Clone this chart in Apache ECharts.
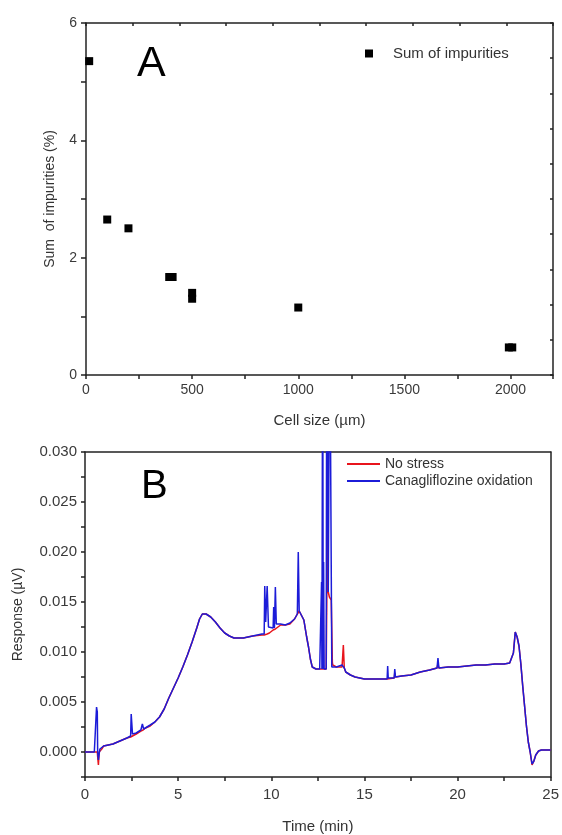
<!DOCTYPE html>
<html>
<head>
<meta charset="UTF-8">
<title>Impurities and chromatogram</title>
<script type="text/javascript" src="https://cdn.jsdelivr.net/npm/echarts@6/dist/echarts.min.js"></script>
<style>
  html, body { margin: 0; padding: 0; background: #fff; }
</style>
</head>
<body>
<div id="main" style="width: 562px;height:835px;"></div>
<script type="text/javascript">
// panel A: sum of impurities vs cell size
var cellSize   = [15,   100,  200,  392,  408,  500,  500,  1000, 1992, 2008];
var impurities = [5.35, 2.65, 2.50, 1.67, 1.67, 1.30, 1.40, 1.15, 0.47, 0.47];

// panel B: chromatogram, time (min) and response (uV) for both runs
var timeB = [0, 0.5, 0.6, 0.62, 0.66, 0.68, 0.72, 0.76, 0.8, 0.9, 1.0, 1.25, 1.5, 1.75, 2.0, 2.25,
  2.45, 2.48, 2.52, 2.55, 2.75, 3.0, 3.08, 3.12, 3.15, 3.25, 3.5, 3.75, 4.0, 4.25, 4.5, 4.75,
  5.0, 5.25, 5.5, 5.75, 6.0, 6.15, 6.3, 6.5, 6.75, 7.0, 7.25, 7.5, 7.75, 8.0, 8.5, 9.0,
  9.5, 9.62, 9.65, 9.7, 9.78, 9.85, 9.9, 10.1, 10.13, 10.17, 10.22, 10.27, 10.5, 10.75, 11.0, 11.25,
  11.4, 11.45, 11.5, 11.6, 11.75, 11.9, 12.0, 12.1, 12.2, 12.4, 12.6, 12.68, 12.7, 12.72, 12.75, 12.76,
  12.79, 12.81, 12.84, 12.95, 12.98, 13.02, 13.04, 13.06, 13.12, 13.14, 13.22, 13.25, 13.28, 13.3, 13.5, 13.8,
  13.87, 13.92, 14.0, 14.25, 14.5, 15.0, 15.5, 16.0, 16.22, 16.25, 16.28, 16.6, 16.63, 16.67, 17.0, 17.5,
  18.0, 18.5, 18.9, 18.95, 19.0, 19.5, 20.0, 20.5, 21.0, 21.5, 22.0, 22.5, 22.8, 23.0, 23.1, 23.2,
  23.3, 23.4, 23.5, 23.6, 23.7, 23.8, 23.9, 24.0, 24.1, 24.2, 24.35, 24.5, 24.75, 25.0];
var noStress = [0, 0, 0, 0, 0, -0.0005, -0.0013, 0, 0.0002, 0.0003, 0.0006, 0.0007, 0.0008, 0.0010, 0.0012, 0.0014,
  0.0015, 0.0015, 0.0015, 0.0016, 0.0018, 0.0021, 0.0022, 0.0022, 0.0023, 0.0024, 0.0026, 0.0030, 0.0035, 0.0043, 0.0054, 0.0064,
  0.0074, 0.0085, 0.0097, 0.0110, 0.0124, 0.0133, 0.0138, 0.0138, 0.0135, 0.0130, 0.0124, 0.0119, 0.0116, 0.0114, 0.0114, 0.0116,
  0.0117, 0.0117, 0.0117, 0.0117, 0.0118, 0.0118, 0.0119, 0.0122, 0.0122, 0.0122, 0.0123, 0.0124, 0.0127, 0.0127, 0.0128, 0.0133,
  0.0138, 0.0140, 0.0141, 0.0140, 0.0132, 0.0115, 0.0105, 0.0093, 0.0085, 0.0083, 0.0083, 0.0083, 0.0083, 0.0083, 0.0083, 0.0083,
  0.0083, 0.0083, 0.0083, 0.0083, 0.0083, 0.0236, 0.0200, 0.0160, 0.0155, 0.0153, 0.0152, 0.0150, 0.0090, 0.0087, 0.0085, 0.0085,
  0.0107, 0.0084, 0.0080, 0.0077, 0.0075, 0.0073, 0.0073, 0.0073, 0.0073, 0.0075, 0.0074, 0.0074, 0.0079, 0.0075, 0.0076, 0.0077,
  0.0080, 0.0082, 0.0084, 0.0088, 0.0084, 0.0085, 0.0085, 0.0086, 0.0087, 0.0087, 0.0088, 0.0088, 0.0089, 0.0099, 0.0120, 0.0115,
  0.0106, 0.0088, 0.0066, 0.0046, 0.0026, 0.0010, 0.0000, -0.0013, -0.0009, -0.0003, 0.0001, 0.0002, 0.0002, 0.0002];
var oxidation = [0, 0, 0, 0.0045, 0.0040, 0, -0.0008, -0.0002, 0.0003, 0.0002, 0.0006, 0.0007, 0.0008, 0.0010, 0.0012, 0.0014,
  0.0016, 0.0038, 0.0037, 0.0018, 0.0019, 0.0022, 0.0028, 0.0027, 0.0023, 0.0024, 0.0027, 0.0030, 0.0035, 0.0043, 0.0054, 0.0064,
  0.0074, 0.0085, 0.0097, 0.0110, 0.0124, 0.0133, 0.0138, 0.0138, 0.0135, 0.0130, 0.0124, 0.0119, 0.0116, 0.0114, 0.0114, 0.0116,
  0.0118, 0.0118, 0.0166, 0.0130, 0.0166, 0.0125, 0.0123, 0.0124, 0.0145, 0.0124, 0.0165, 0.0128, 0.0128, 0.0127, 0.0129, 0.0133,
  0.0138, 0.0200, 0.0141, 0.0140, 0.0132, 0.0115, 0.0105, 0.0093, 0.0085, 0.0083, 0.0083, 0.0083, 0.0170, 0.0083, 0.0083, 0.0450,
  0.0083, 0.0190, 0.0083, 0.0083, 0.0450, 0.0450, 0.0450, 0.0160, 0.0160, 0.0450, 0.0450, 0.0085, 0.0086, 0.0087, 0.0085, 0.0087,
  0.0088, 0.0084, 0.0080, 0.0077, 0.0075, 0.0073, 0.0073, 0.0073, 0.0073, 0.0086, 0.0074, 0.0074, 0.0083, 0.0075, 0.0076, 0.0077,
  0.0080, 0.0082, 0.0084, 0.0094, 0.0084, 0.0085, 0.0085, 0.0086, 0.0087, 0.0087, 0.0088, 0.0088, 0.0089, 0.0099, 0.0120, 0.0115,
  0.0106, 0.0088, 0.0066, 0.0046, 0.0026, 0.0010, 0.0000, -0.0012, -0.0009, -0.0003, 0.0001, 0.0002, 0.0002, 0.0002];

var axisCol = '#222';
var labelCol = '#3a3a3a';
var font = 'Liberation Sans, Arial, sans-serif';

function pairs(xs, ys) {
  return xs.map(function (x, i) { return [x, ys[i]]; });
}

var myChart = echarts.init(document.getElementById('main'));

var option = {
  animation: false,
  backgroundColor: '#fff',
  textStyle: { fontFamily: font },
  title: [
    { text: 'A', left: 132, top: 38, textStyle: { fontSize: 43, fontWeight: 'normal', color: '#000' } },
    { text: 'B', left: 136, top: 462, textStyle: { fontSize: 40, fontWeight: 'normal', color: '#000' } }
  ],
  legend: [
    {
      data: ['Sum of impurities'],
      left: 365, top: 46, padding: 0,
      icon: 'rect', itemWidth: 8, itemHeight: 8,
      itemStyle: { opacity: 1 },
      textStyle: { fontSize: 15, color: '#333', padding: [0, 0, 0, 15] }
    },
    {
      data: ['No stress', 'Canagliflozine oxidation'],
      orient: 'vertical',
      left: 347, top: 457, padding: 0,
      icon: 'rect', itemWidth: 33, itemHeight: 2, itemGap: 3,
      textStyle: { fontSize: 14, color: '#333' }
    }
  ],
  grid: [
    { left: 86, top: 23, width: 467, height: 352 },
    { left: 85, top: 452, width: 468, height: 325 }
  ],
  xAxis: [
    {
      gridIndex: 0, type: 'value', position: 'bottom',
      min: 0, max: 2200, interval: 250,
      name: 'Cell size (\u00b5m)', nameLocation: 'middle', nameGap: 38,
      nameTextStyle: { fontSize: 15, color: '#333' },
      axisLine: { onZero: false, lineStyle: { color: axisCol, width: 1.5 } },
      axisTick: { inside: false, length: 4, lineStyle: { color: axisCol, width: 1.5 } },
      axisLabel: {
        margin: 8, fontSize: 14, color: labelCol,
        formatter: function (v) { return v % 500 === 0 ? String(v) : ''; }
      },
      splitLine: { show: false }
    },
    {
      gridIndex: 0, type: 'value', position: 'top',
      min: 0, max: 10, interval: 1,
      axisLine: { onZero: false, lineStyle: { color: axisCol, width: 1.5 } },
      axisTick: { inside: true, length: 3, lineStyle: { color: axisCol, width: 1.5 } },
      axisLabel: { show: false },
      splitLine: { show: false }
    },
    {
      gridIndex: 1, type: 'value', position: 'bottom',
      min: 0, max: 25, interval: 2.5,
      name: 'Time (min)', nameLocation: 'middle', nameGap: 42,
      nameTextStyle: { fontSize: 15, color: '#333' },
      axisLine: { onZero: false, lineStyle: { color: axisCol, width: 1.5 } },
      axisTick: { inside: false, length: 4, lineStyle: { color: axisCol, width: 1.5 } },
      axisLabel: {
        margin: 10, fontSize: 15, color: labelCol,
        formatter: function (v) {
          var k = Math.round(v / 2.5);
          return k % 2 === 0 ? String(k * 2.5) : '';
        }
      },
      splitLine: { show: false }
    },
    {
      gridIndex: 1, type: 'value', position: 'top',
      min: 0, max: 25,
      axisLine: { onZero: false, lineStyle: { color: axisCol, width: 1.5 } },
      axisTick: { show: false },
      axisLabel: { show: false },
      splitLine: { show: false }
    }
  ],
  yAxis: [
    {
      gridIndex: 0, type: 'value', position: 'left',
      min: 0, max: 6, interval: 1,
      name: 'Sum  of impurities (%)', nameLocation: 'middle', nameGap: 29,
      nameTextStyle: { fontSize: 14, color: '#333' },
      axisLine: { onZero: false, lineStyle: { color: axisCol, width: 1.5 } },
      axisTick: { inside: false, length: 5, lineStyle: { color: axisCol, width: 1.5 } },
      axisLabel: {
        margin: 9, fontSize: 14, color: labelCol,
        formatter: function (v) { return v % 2 === 0 ? String(v) : ''; }
      },
      splitLine: { show: false }
    },
    {
      gridIndex: 0, type: 'value', position: 'right',
      min: 0, max: 10, interval: 1,
      axisLine: { onZero: false, lineStyle: { color: axisCol, width: 1.5 } },
      axisTick: { inside: true, length: 3, lineStyle: { color: axisCol, width: 1.5 } },
      axisLabel: { show: false },
      splitLine: { show: false }
    },
    {
      gridIndex: 1, type: 'value', position: 'left',
      min: -0.0025, max: 0.03, interval: 0.0025,
      name: 'Response (\u00b5V)', nameLocation: 'middle', nameGap: 60,
      nameTextStyle: { fontSize: 14, color: '#333' },
      axisLine: { onZero: false, lineStyle: { color: axisCol, width: 1.5 } },
      axisTick: { inside: false, length: 4, lineStyle: { color: axisCol, width: 1.5 } },
      axisLabel: {
        margin: 8, fontSize: 15, color: labelCol,
        formatter: function (v) {
          var k = Math.round(v / 0.0025);
          return k % 2 === 0 ? (k * 0.0025).toFixed(3) : '';
        }
      },
      splitLine: { show: false }
    },
    {
      gridIndex: 1, type: 'value', position: 'right',
      min: -0.0025, max: 0.03,
      axisLine: { onZero: false, lineStyle: { color: axisCol, width: 1.5 } },
      axisTick: { show: false },
      axisLabel: { show: false },
      splitLine: { show: false }
    }
  ],
  series: [
    {
      name: 'Sum of impurities', type: 'scatter',
      xAxisIndex: 0, yAxisIndex: 0,
      symbol: 'rect', symbolSize: 8,
      itemStyle: { color: '#000', opacity: 1 },
      data: pairs(cellSize, impurities)
    },
    {
      name: 'No stress', type: 'line',
      xAxisIndex: 2, yAxisIndex: 2,
      symbol: 'none', showSymbol: false, clip: true,
      lineStyle: { color: '#e8141c', width: 1.5 },
      itemStyle: { color: '#e8141c' },
      data: pairs(timeB, noStress)
    },
    {
      name: 'Canagliflozine oxidation', type: 'line',
      xAxisIndex: 2, yAxisIndex: 2,
      symbol: 'none', showSymbol: false, clip: true,
      lineStyle: { color: '#1c1cd8', width: 1.5 },
      itemStyle: { color: '#1c1cd8' },
      data: pairs(timeB, oxidation)
    }
  ]
};

myChart.setOption(option);
</script>
</body>
</html>
